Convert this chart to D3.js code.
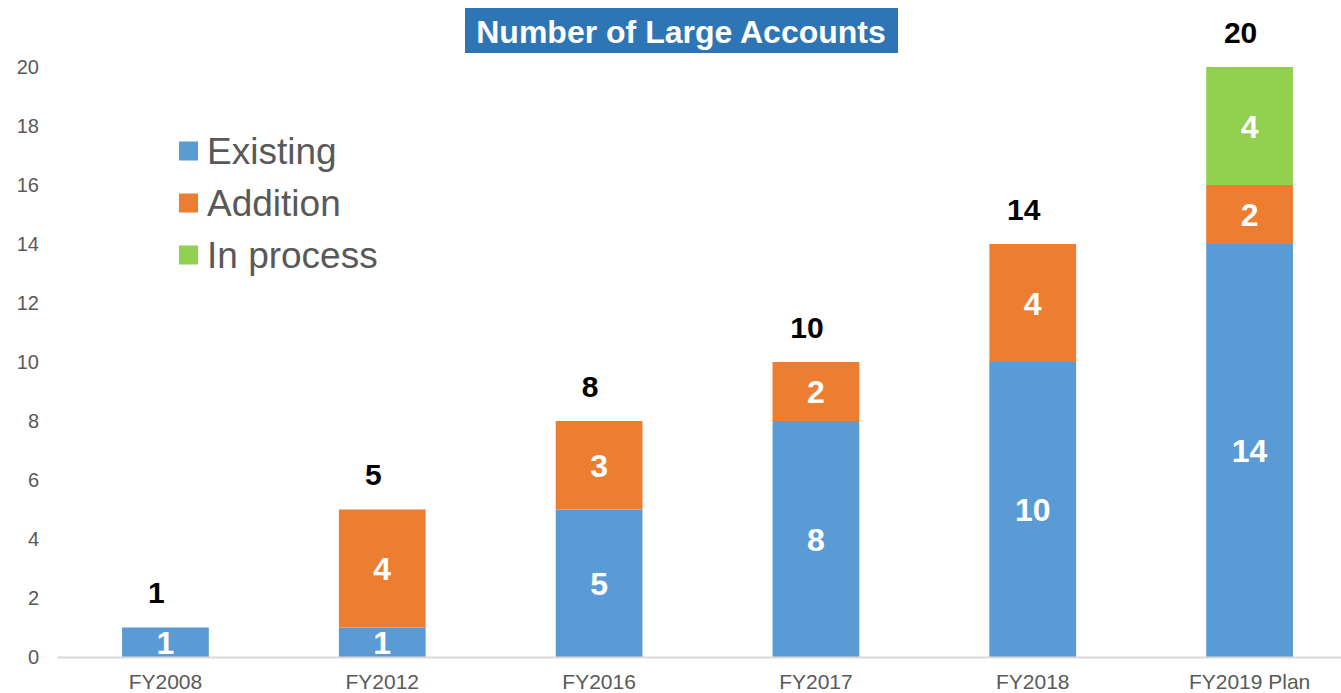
<!DOCTYPE html>
<html>
<head>
<meta charset="utf-8">
<script src="https://cdn.jsdelivr.net/npm/d3@7"></script>
<style>
  body { margin: 0; background: #fff; }
  text { font-family: 'Liberation Sans', Arial, sans-serif; }
</style>
</head>
<body>
<div id="chart"></div>
<script>
const years = ['FY2008', 'FY2012', 'FY2016', 'FY2017', 'FY2018', 'FY2019 Plan']
const existing = [1, 1, 5, 8, 10, 14]
const addition = [0, 4, 3, 2, 4, 2]
const inProcess = [0, 0, 0, 0, 0, 4]
const seriesNames = ['Existing', 'Addition', 'In process']
const yTicks = [0, 2, 4, 6, 8, 10, 12, 14, 16, 18, 20]

const W = 1341
const H = 693
const margin = { top: 67, left: 57, right: -17, bottom: 36 }
const height = H - margin.top - margin.bottom
const width = W - margin.left - margin.right

const svg = d3
  .select('#chart')
  .append('svg')
  .attr('width', W)
  .attr('height', H)

const colorScale = d3.scaleOrdinal()
  .domain(seriesNames)
  .range(['#5B9BD5', '#ED7D31', '#92D050'])

const x = d3.scaleBand().domain(years).range([margin.left, margin.left + width]).paddingInner(0.6).paddingOuter(0.3)
const y = d3.scaleLinear().domain([0, 20]).range([margin.top + height, margin.top])

const rows = years.map((yr, i) => ({
  year: yr,
  'Existing': existing[i],
  'Addition': addition[i],
  'In process': inProcess[i]
}))

const stacked = d3.stack().keys(seriesNames)(rows)

// y axis labels
svg.append('g')
  .attr('transform', `translate(${margin.left - 18},0)`)
  .call(d3.axisLeft(y).tickValues(yTicks).tickSize(0).tickPadding(0))
  .call(g => g.select('.domain').remove())
  .selectAll('text')
  .style('font-size', '20px')
  .style('font-family', "'Liberation Sans', Arial, sans-serif")
  .attr('fill', '#595959')

// bars
const layers = svg.selectAll('.layer')
  .data(stacked)
  .enter()
  .append('g')
  .attr('fill', d => colorScale(d.key))

layers.selectAll('rect')
  .data(d => d.map(p => ({ p, key: d.key })))
  .enter()
  .append('rect')
  .attr('x', d => x(d.p.data.year))
  .attr('width', x.bandwidth())
  .attr('y', d => y(d.p[1]))
  .attr('height', d => y(d.p[0]) - y(d.p[1]))

// segment labels
layers.selectAll('text')
  .data(d => d.map(p => ({ p, key: d.key })).filter(d => d.p[1] - d.p[0] > 0))
  .enter()
  .append('text')
  .attr('x', d => x(d.p.data.year) + x.bandwidth() / 2)
  .attr('y', d => (y(d.p[0]) + y(d.p[1])) / 2)
  .attr('dy', '0.36em')
  .attr('text-anchor', 'middle')
  .attr('fill', '#fff')
  .style('font-size', '32px')
  .style('font-weight', 'bold')
  .text(d => d.p[1] - d.p[0])

// x axis
svg.append('g')
  .attr('transform', `translate(0,${y(0)})`)
  .call(d3.axisBottom(x).tickSize(0).tickPadding(17))
  .call(g => g.select('.domain').attr('stroke', '#d9d9d9').attr('stroke-width', 2))
  .selectAll('text')
  .style('font-size', '21px')
  .style('font-family', "'Liberation Sans', Arial, sans-serif")
  .attr('fill', '#595959')

// totals
svg.selectAll('.total')
  .data(rows)
  .enter()
  .append('text')
  .attr('x', d => x(d.year) + x.bandwidth() / 2 - 9)
  .attr('y', d => y(d['Existing'] + d['Addition'] + d['In process']) - 35)
  .attr('dy', '0.36em')
  .attr('text-anchor', 'middle')
  .attr('fill', '#000')
  .style('font-size', '30px')
  .style('font-weight', 'bold')
  .text(d => d['Existing'] + d['Addition'] + d['In process'])

// title
svg.append('rect')
  .attr('x', 465)
  .attr('y', 8)
  .attr('width', 433)
  .attr('height', 45)
  .attr('fill', '#2E75B6')
svg.append('text')
  .attr('x', 681)
  .attr('y', 31)
  .attr('dy', '0.36em')
  .attr('text-anchor', 'middle')
  .attr('fill', '#fff')
  .style('font-size', '32px')
  .style('font-weight', 'bold')
  .text('Number of Large Accounts')

// legend
const legend = svg.selectAll('.legend')
  .data(seriesNames)
  .enter()
  .append('g')
  .attr('transform', (d, i) => `translate(179,${151 + i * 52})`)

legend.append('rect')
  .attr('x', 0)
  .attr('y', -9.5)
  .attr('width', 19)
  .attr('height', 19)
  .attr('fill', d => colorScale(d))

legend.append('text')
  .attr('x', 28)
  .attr('y', 0)
  .attr('dy', '0.36em')
  .attr('fill', '#595959')
  .style('font-size', '37px')
  .text(d => d)
</script>
</body>
</html>
